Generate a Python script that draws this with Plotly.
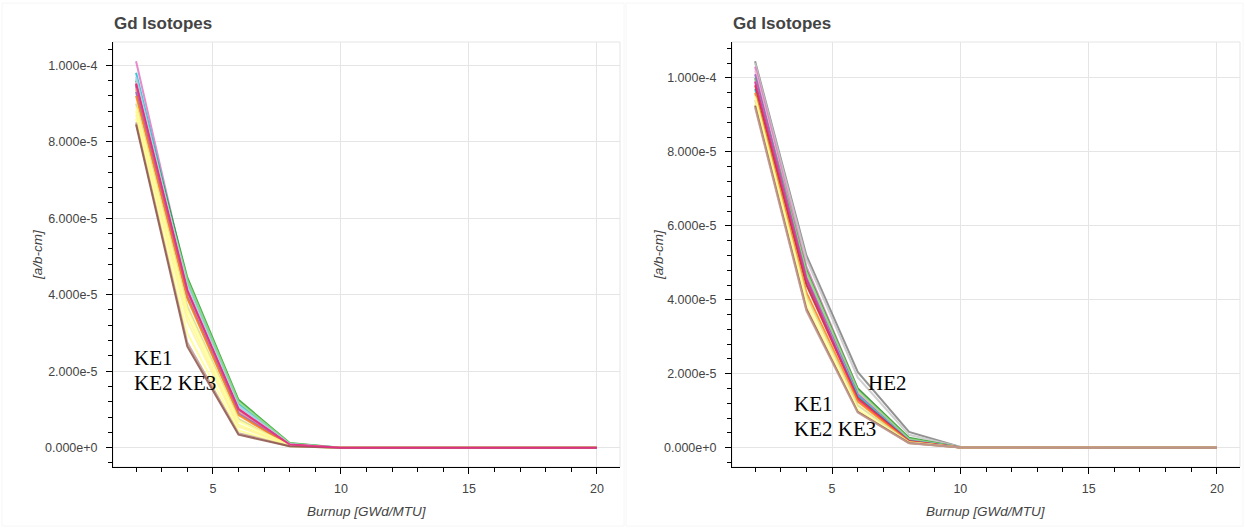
import plotly.graph_objects as go

# Burnup points [GWd/MTU]
burnup = [2, 4, 6, 8, 10, 12, 14, 16, 18, 20]

# Number densities in units of 1e-5 a/b-cm (left panel)
left_series = {
    "#e377c2": [10.1, 4.30, 1.05, 0.08, 0.0, 0.0, 0.0, 0.0, 0.0, 0.0],
    "#17becf": [9.80, 4.35, 1.15, 0.10, 0.0, 0.0, 0.0, 0.0, 0.0, 0.0],
    "#2ca02c": [9.60, 4.45, 1.25, 0.12, 0.0, 0.0, 0.0, 0.0, 0.0, 0.0],
    "#98df8a": [9.35, 4.38, 1.20, 0.11, 0.0, 0.0, 0.0, 0.0, 0.0, 0.0],
    "#aec7e8": [9.70, 4.20, 1.10, 0.09, 0.0, 0.0, 0.0, 0.0, 0.0, 0.0],
    "#9edae5": [9.65, 4.25, 1.08, 0.09, 0.0, 0.0, 0.0, 0.0, 0.0, 0.0],
    "#f7b6d2": [9.55, 4.15, 1.02, 0.08, 0.0, 0.0, 0.0, 0.0, 0.0, 0.0],
    "#d62728": [9.50, 4.10, 1.00, 0.07, 0.0, 0.0, 0.0, 0.0, 0.0, 0.0],
    "#7f7f7f": [9.45, 4.05, 0.98, 0.07, 0.0, 0.0, 0.0, 0.0, 0.0, 0.0],
    "#ff9896": [9.40, 4.00, 0.95, 0.07, 0.0, 0.0, 0.0, 0.0, 0.0, 0.0],
    "#9467bd": [9.30, 3.95, 0.90, 0.06, 0.0, 0.0, 0.0, 0.0, 0.0, 0.0],
    "#ff7f0e": [9.20, 3.90, 0.85, 0.06, 0.0, 0.0, 0.0, 0.0, 0.0, 0.0],
    "#dbdb8d": [9.00, 3.70, 0.75, 0.05, 0.0, 0.0, 0.0, 0.0, 0.0, 0.0],
    "#ffff99": [8.90, 3.60, 0.70, 0.05, 0.0, 0.0, 0.0, 0.0, 0.0, 0.0],
    "#fffb8a": [8.80, 3.45, 0.60, 0.05, 0.0, 0.0, 0.0, 0.0, 0.0, 0.0],
    "#fff59d": [8.70, 3.30, 0.55, 0.05, 0.0, 0.0, 0.0, 0.0, 0.0, 0.0],
    "#ffff8f": [8.60, 3.00, 0.45, 0.04, 0.0, 0.0, 0.0, 0.0, 0.0, 0.0],
    "#c49c94": [8.50, 2.75, 0.38, 0.04, 0.0, 0.0, 0.0, 0.0, 0.0, 0.0],
    "#8c564b": [8.45, 2.65, 0.34, 0.04, 0.0, 0.0, 0.0, 0.0, 0.0, 0.0],
    "#e7298a": [9.52, 4.12, 1.01, 0.08, 0.0, 0.0, 0.0, 0.0, 0.0, 0.0],
}

# Number densities in units of 1e-5 a/b-cm (right panel)
right_series = {
    "#7f7f7f": [10.45, 5.20, 2.05, 0.43, 0.02, 0.0, 0.0, 0.0, 0.0, 0.0],
    "#c7c7c7": [10.40, 5.10, 1.90, 0.35, 0.02, 0.0, 0.0, 0.0, 0.0, 0.0],
    "#e377c2": [10.30, 4.90, 1.60, 0.25, 0.01, 0.0, 0.0, 0.0, 0.0, 0.0],
    "#f7b6d2": [10.20, 4.70, 1.50, 0.22, 0.01, 0.0, 0.0, 0.0, 0.0, 0.0],
    "#2ca02c": [10.00, 4.80, 1.60, 0.27, 0.01, 0.0, 0.0, 0.0, 0.0, 0.0],
    "#98df8a": [10.00, 4.75, 1.55, 0.24, 0.01, 0.0, 0.0, 0.0, 0.0, 0.0],
    "#9467bd": [10.10, 4.60, 1.45, 0.20, 0.01, 0.0, 0.0, 0.0, 0.0, 0.0],
    "#aec7e8": [9.90, 4.50, 1.40, 0.20, 0.01, 0.0, 0.0, 0.0, 0.0, 0.0],
    "#17becf": [9.70, 4.45, 1.40, 0.19, 0.01, 0.0, 0.0, 0.0, 0.0, 0.0],
    "#d62728": [9.80, 4.40, 1.35, 0.18, 0.01, 0.0, 0.0, 0.0, 0.0, 0.0],
    "#e7298a": [9.90, 4.55, 1.30, 0.17, 0.01, 0.0, 0.0, 0.0, 0.0, 0.0],
    "#ff7f0e": [9.60, 4.20, 1.25, 0.16, 0.01, 0.0, 0.0, 0.0, 0.0, 0.0],
    "#dbdb8d": [9.40, 4.10, 1.15, 0.15, 0.01, 0.0, 0.0, 0.0, 0.0, 0.0],
    "#ffff99": [9.50, 4.00, 1.05, 0.14, 0.01, 0.0, 0.0, 0.0, 0.0, 0.0],
    "#fff59d": [9.30, 3.85, 1.00, 0.13, 0.01, 0.0, 0.0, 0.0, 0.0, 0.0],
    "#8c564b": [9.25, 3.75, 0.97, 0.13, 0.01, 0.0, 0.0, 0.0, 0.0, 0.0],
    "#c49c94": [9.20, 3.70, 0.95, 0.12, 0.01, 0.0, 0.0, 0.0, 0.0, 0.0],
}

UNIT = 1e-5
y_tickvals = [0.0, 2e-5, 4e-5, 6e-5, 8e-5, 1e-4]
y_ticktext = ["0.000e+0", "2.000e-5", "4.000e-5", "6.000e-5", "8.000e-5", "1.000e-4"]
title_text = "Gd Isotopes"
x_title = "Burnup [GWd/MTU]"
y_title = "[a/b-cm]"
left_labels = ["KE1", "KE2 KE3"]
right_labels = ["HE2", "KE1", "KE2 KE3"]

W, H = 1245, 528
fig = go.Figure()

for color, vals in left_series.items():
    fig.add_trace(go.Scatter(x=burnup, y=[v * UNIT for v in vals], mode="lines",
                             line=dict(color=color, width=2), opacity=0.85,
                             xaxis="x", yaxis="y", showlegend=False, hoverinfo="skip"))
for color, vals in right_series.items():
    fig.add_trace(go.Scatter(x=burnup, y=[v * UNIT for v in vals], mode="lines",
                             line=dict(color=color, width=2), opacity=0.85,
                             xaxis="x2", yaxis="y2", showlegend=False, hoverinfo="skip"))

def px_x(p):
    return p / W

def px_y(p):
    return 1 - p / H

tickfont = dict(family="Liberation Sans, Arial, sans-serif", size=12.5, color="#444")
common_x = dict(range=[1.1, 20.9], dtick=5, tick0=0, showgrid=True, gridcolor="#e5e5e5",
                zeroline=False, showline=True, linecolor="#000", linewidth=1,
                ticks="outside", ticklen=6, tickcolor="#000", tickfont=tickfont,
                ticklabelstandoff=4,
                minor=dict(dtick=1, tick0=0, ticks="outside", ticklen=4, tickcolor="#000", showgrid=False))
common_y = dict(tickmode="array", tickvals=y_tickvals, ticktext=y_ticktext,
                showgrid=True, gridcolor="#e5e5e5",
                zeroline=False, showline=True, linecolor="#000", linewidth=1,
                ticks="outside", ticklen=6, tickcolor="#000", tickfont=tickfont,
                ticklabelstandoff=6,
                minor=dict(dtick=0.4e-5, tick0=0, ticks="outside", ticklen=4, tickcolor="#000", showgrid=False))

ydom = [px_y(467), px_y(42)]
fig.update_layout(
    width=W, height=H, autosize=False,
    margin=dict(l=0, r=0, t=0, b=0),
    paper_bgcolor="white", plot_bgcolor="white",
    xaxis=dict(domain=[px_x(113), px_x(620)], anchor="y", **common_x),
    yaxis=dict(domain=ydom, anchor="x", range=[-0.505e-5, 1.0605e-4], **common_y),
    xaxis2=dict(domain=[px_x(732), px_x(1240)], anchor="y2", **common_x),
    yaxis2=dict(domain=ydom, anchor="x2", range=[-0.52e-5, 1.097e-4], **common_y),
)

# plot frame outlines
for (x0, x1) in [(113, 620), (732, 1240)]:
    fig.add_shape(type="rect", xref="paper", yref="paper",
                  x0=px_x(x0), x1=px_x(x1), y0=px_y(467), y1=px_y(42),
                  line=dict(color="#e5e5e5", width=1), layer="below")
# faint outer figure borders
for (x0, x1) in [(2, 624), (626, 1243)]:
    fig.add_shape(type="rect", xref="paper", yref="paper",
                  x0=px_x(x0), x1=px_x(x1), y0=px_y(526), y1=px_y(3),
                  line=dict(color="#f6f6f6", width=1), layer="below")

ann = []
# titles
for x0 in [112, 731]:
    ann.append(dict(text="<b>" + title_text + "</b>", xref="paper", yref="paper",
                    x=px_x(x0), y=px_y(24), xanchor="left", yanchor="middle", showarrow=False,
                    font=dict(family="Liberation Sans, Arial, sans-serif", size=17, color="#444")))
# axis titles
for xc in [366.5, 986]:
    ann.append(dict(text="<i>" + x_title + "</i>", xref="paper", yref="paper",
                    x=px_x(xc), y=px_y(511), xanchor="center", yanchor="middle", showarrow=False,
                    font=dict(family="Liberation Sans, Arial, sans-serif", size=13.5, color="#444")))
for xc in [38, 659]:
    ann.append(dict(text="<i>" + y_title + "</i>", xref="paper", yref="paper", textangle=-90,
                    x=px_x(xc), y=px_y(255), xanchor="center", yanchor="middle", showarrow=False,
                    font=dict(family="Liberation Sans, Arial, sans-serif", size=13.5, color="#444")))
# case labels
serif = dict(family="Liberation Serif, Times New Roman, serif", size=21, color="#000")
for txt, (xp, yp) in zip(left_labels, [(132, 358), (132, 383)]):
    ann.append(dict(text=txt, xref="paper", yref="paper", x=px_x(xp), y=px_y(yp),
                    xanchor="left", yanchor="middle", showarrow=False, font=serif))
for txt, (xp, yp) in zip(right_labels, [(866, 383), (792, 404), (792, 429)]):
    ann.append(dict(text=txt, xref="paper", yref="paper", x=px_x(xp), y=px_y(yp),
                    xanchor="left", yanchor="middle", showarrow=False, font=serif))
fig.update_layout(annotations=ann)

fig.write_html("out.html")
